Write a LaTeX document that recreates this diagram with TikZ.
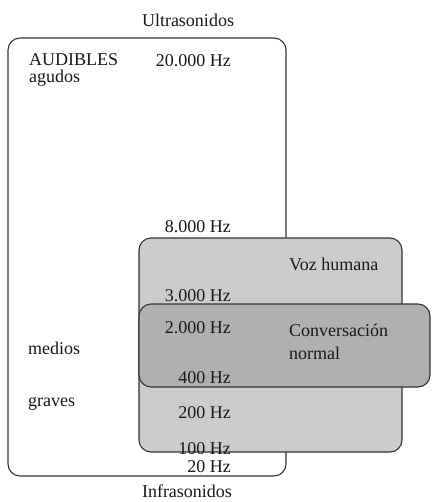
\documentclass[tikz,border=0pt]{standalone}
\usepackage{fontspec}
\setmainfont{Liberation Serif}
\begin{document}
\begin{tikzpicture}[x=1pt,y=-1pt,
  lbl/.style={inner sep=0pt,font=\fontsize{18}{21}\selectfont,text=black!90},
  hz/.style={lbl,anchor=base east},
  lft/.style={lbl,anchor=base west},
  ctr/.style={lbl,anchor=base},
  frame/.style={draw=black!80,line width=1.1pt,rounded corners=12pt}]
\useasboundingbox (0,0) rectangle (431,502);
\draw[frame,fill=white] (8,38) rectangle (286,476);
\draw[frame,fill=black!20] (139,238) rectangle (402,452);
\draw[frame,fill=black!31] (139,304) rectangle (430,387);
\node[ctr] (ultra) at (188,27) {Ultrasonidos};
\node[ctr] (infra) at (187,497) {Infrasonidos};
\node[lft] (aud) at (29,66) {AUDIBLES};
\node[lft] (agu) at (29,83) {agudos};
\node[lft] (med) at (28,354) {medios};
\node[lft] (gra) at (28,406) {graves};
\node[hz] (f20k) at (231,67) {20.000 Hz};
\node[hz] (f8k) at (231,233) {8.000 Hz};
\node[hz] (f3k) at (231,301) {3.000 Hz};
\node[hz] (f2k) at (231,333) {2.000 Hz};
\node[hz] (f400) at (231,383) {400 Hz};
\node[hz] (f200) at (231,418) {200 Hz};
\node[hz] (f100) at (231,454) {100 Hz};
\node[hz] (f20) at (231,472) {20 Hz};
\node[lft] (voz) at (289,270) {Voz humana};
\node[lft] (conv) at (289,336) {Conversación};
\node[lft] (norm) at (289,359) {normal};
\end{tikzpicture}
\end{document}
